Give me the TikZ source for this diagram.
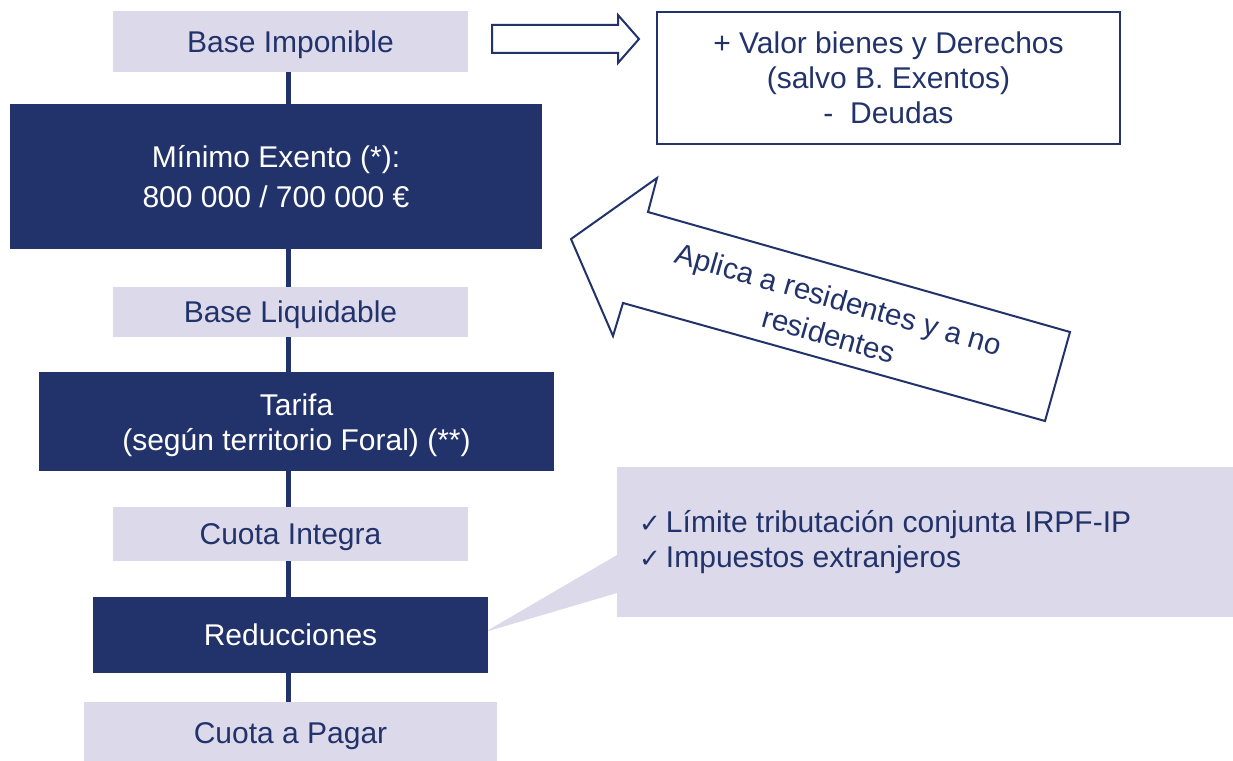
\documentclass[tikz,border=0pt]{standalone}
\usepackage{fontspec}
\setmainfont{Liberation Sans}
\newfontfamily\dejavu{DejaVu Sans}
\definecolor{navy}{HTML}{22336B}
\definecolor{lav}{HTML}{DCD9EA}
\begin{document}
\begin{tikzpicture}[x=1pt,y=-1pt,
  lightbox/.style={fill=lav, draw=none, text=navy, inner sep=0pt, align=center,
    font=\fontsize{30}{35}\selectfont, text height=28pt, text depth=6.5pt},
  darkbox/.style={fill=navy, draw=none, text=white, inner sep=0pt, align=center,
    font=\fontsize{30}{35}\selectfont},
  conn/.style={draw=navy, line width=5pt},
  outl/.style={draw=navy, line width=2pt, fill=white, line join=miter}]
\useasboundingbox (0,0) rectangle (1233,760);
\coordinate (lx) at (288,0);
% callout
\fill[lav] (617,467) rectangle (1233,617);
\fill[lav] (617,555) -- (485,632) -- (617,593) -- cycle;
\node[anchor=west, align=left, text=navy, inner sep=0pt,
  font=\fontsize{30}{35}\selectfont] (cal) at (639,542)
  {{\dejavu\fontsize{26}{35}\selectfont ✓}\,Límite tributación conjunta IRPF-IP\\
   {\dejavu\fontsize{26}{35}\selectfont ✓}\,Impuestos extranjeros};
% nodes
\node[lightbox, minimum width=355pt, minimum height=61pt] (bi) at (290.5,41.5) {Base Imponible};
\node[darkbox, minimum width=532pt, minimum height=145pt, font=\fontsize{30}{40}\selectfont] (me) at (276,176.5) {Mínimo Exento (*):\\800 000 / 700 000 €};
\node[lightbox, minimum width=355pt, minimum height=50pt] (bl) at (290.5,312) {Base Liquidable};
\node[darkbox, minimum width=515pt, minimum height=99pt] (ta) at (296.5,421.5) {\rule{0pt}{30pt}Tarifa\\(según territorio Foral) (**)};
\node[lightbox, minimum width=355pt, minimum height=54pt] (ci) at (290.5,534) {Cuota Integra};
\node[darkbox, minimum width=395pt, minimum height=76pt] (re) at (290.5,635) {Reducciones};
\node[lightbox, minimum width=413pt, minimum height=62pt] (cp) at (290.5,733) {Cuota a Pagar};
% connectors
\draw[conn] (bi.south -| lx) -- (me.north -| lx);
\draw[conn] (me.south -| lx) -- (bl.north -| lx);
\draw[conn] (bl.south -| lx) -- (ta.north -| lx);
\draw[conn] (ta.south -| lx) -- (ci.north -| lx);
\draw[conn] (ci.south -| lx) -- (re.north -| lx);
\draw[conn] (re.south -| lx) -- (cp.north -| lx);
% right box
\node[draw=navy, line width=2pt, minimum width=463pt, minimum height=132pt, inner sep=0pt,
  text=navy, align=center, font=\fontsize{30}{35}\selectfont] (vb) at (888.5,78)
  {+ Valor bienes y Derechos\\(salvo B. Exentos)\\-\ \ Deudas};
% top arrow
\draw[outl] (492,25) -- (618,25) -- (618,15) -- (639,39) -- (618,63) -- (618,53) -- (492,53) -- cycle;
% big arrow
\draw[outl] (571,239) -- (657,178) -- (648,212) -- (1070,332) -- (1045,421) -- (623,303) -- (613,336) -- cycle;
\node[rotate=-16, text=navy, align=center, inner sep=0pt,
  font=\fontsize{29.5}{37}\selectfont] (ap) at (834,317) {Aplica a residentes y a no\\residentes};
\end{tikzpicture}
\end{document}
